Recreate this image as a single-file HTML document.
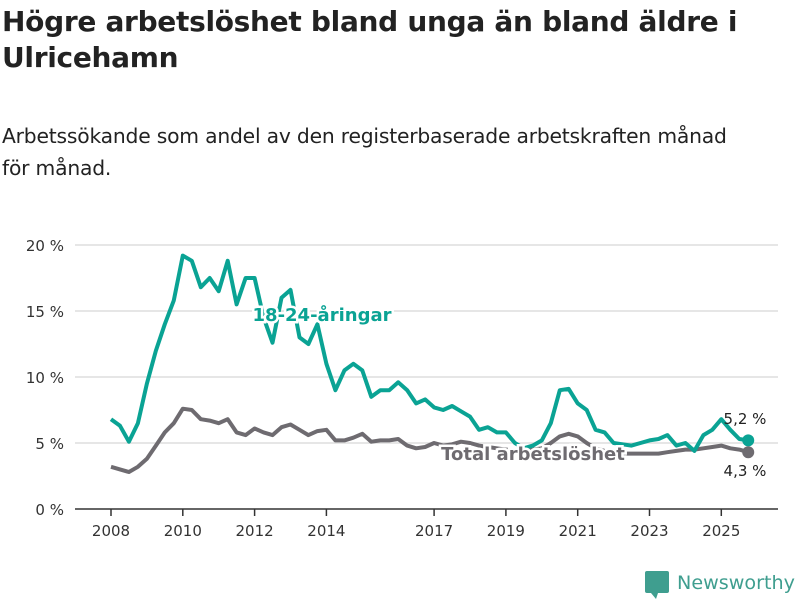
<!DOCTYPE html>
<html><head><meta charset="utf-8"><style>
body{margin:0;background:#fff;font-family:"Liberation Sans","DejaVu Sans",sans-serif;}
#wrap{position:relative;width:800px;height:600px;overflow:hidden;}
h1{position:absolute;left:2px;top:4px;margin:0;font-size:28px;line-height:36px;font-weight:bold;color:#222;font-family:"DejaVu Sans",sans-serif;letter-spacing:-0.3px}
p{position:absolute;left:2px;top:120px;margin:0;width:798px;white-space:nowrap;font-size:20.3px;line-height:32px;color:#222;font-family:"DejaVu Sans",sans-serif;letter-spacing:-0.2px}
</style></head><body><div id="wrap">
<h1>Högre arbetslöshet bland unga än bland äldre i Ulricehamn</h1>
<p>Arbetssökande som andel av den registerbaserade arbetskraften månad<br>för månad.</p>
<svg id="c" width="800" height="600" style="position:absolute;left:0;top:0"></svg>
</div>
<script>
const yTicks=[0,5,10,15,20];
const xTickYears=[2008,2010,2012,2014,2017,2019,2021,2023,2025];
const times=[];for(let i=0;i<72;i++)times.push(2008+i*0.25);
const youth=[6.8,6.3,5.1,6.5,9.5,12,14,15.8,19.2,18.8,16.8,17.5,16.5,18.8,15.5,17.5,17.5,14.5,12.6,16,16.6,13,12.5,14,11,9,10.5,11,10.5,8.5,9,9.0,9.6,9,8,8.3,7.7,7.5,7.8,7.4,7.0,6,6.2,5.8,5.8,5.0,4.6,4.8,5.2,6.5,9,9.1,8,7.5,6,5.8,5.0,4.9,4.8,5.0,5.2,5.3,5.6,4.8,5,4.4,5.6,6.0,6.8,6.0,5.3,5.2];
const total=[3.2,3.0,2.8,3.2,3.8,4.8,5.8,6.5,7.6,7.5,6.8,6.7,6.5,6.8,5.8,5.6,6.1,5.8,5.6,6.2,6.4,6.0,5.6,5.9,6.0,5.2,5.2,5.4,5.7,5.1,5.2,5.2,5.3,4.8,4.6,4.7,5.0,4.8,4.9,5.1,5.0,4.8,4.7,4.6,4.5,4.5,4.5,4.5,4.6,5.0,5.5,5.7,5.5,5.0,4.6,4.4,4.2,4.2,4.2,4.2,4.2,4.2,4.3,4.4,4.5,4.5,4.6,4.7,4.8,4.6,4.5,4.3];
const NS="http://www.w3.org/2000/svg";const svg=document.getElementById('c');
const X=t=>111+(t-2008)*35.9;const Y=v=>509-v*13.2;
function mk(tag,attrs,parent){const e=document.createElementNS(NS,tag);for(const k in attrs)e.setAttribute(k,attrs[k]);(parent||svg).appendChild(e);return e;}
yTicks.forEach(v=>{
 if(v>0){const g=mk('line',{x1:75,x2:778,y1:Y(v),y2:Y(v),stroke:'#ddd','stroke-width':1.5});
 
 }
 const t=mk('text',{x:64,y:Y(v)+6,'text-anchor':'end','font-size':15,fill:'#333','font-family':'DejaVu Sans, sans-serif'});t.textContent=v+' %';
 
 
});
const ax=mk('line',{x1:75,x2:778,y1:509,y2:509,stroke:'#333','stroke-width':1.5});


xTickYears.forEach(yr=>{
 const tk=mk('line',{x1:X(yr),x2:X(yr),y1:509,y2:516,stroke:'#333','stroke-width':1.5});
 
 
 const t=mk('text',{x:X(yr),y:536,'text-anchor':'middle','font-size':15,fill:'#333','font-family':'DejaVu Sans, sans-serif'});t.textContent=yr;
 
 
});
function path(vals){return vals.map((v,i)=>(i?'L':'M')+X(times[i]).toFixed(1)+','+Y(v).toFixed(1)).join('');}
const lt=mk('path',{d:path(total),fill:'none',stroke:'#6e6b70','stroke-width':4,'stroke-linejoin':'round'});


const ly=mk('path',{d:path(youth),fill:'none',stroke:'#0aa394','stroke-width':4,'stroke-linejoin':'round'});


const n=times.length-1;
const d1=mk('circle',{cx:X(times[n]),cy:Y(youth[n]),r:6,fill:'#0aa394'});


const d2=mk('circle',{cx:X(times[n]),cy:Y(total[n]),r:6,fill:'#6e6b70'});


function lbl(x,y,s,fill,name,size,bold,halo){const t=mk('text',{x:x,y:y,'text-anchor':'middle','font-size':size,fill:fill,'font-weight':bold?'bold':'normal','font-family':'DejaVu Sans, sans-serif',stroke:halo?'#fff':'none','stroke-width':halo?5:0,'paint-order':'stroke'});t.textContent=s;
 
 }
lbl(322,321,'18-24-åringar','#0aa394','youth-series-label',18,true,true);
lbl(533,460,'Total arbetslöshet','#6e6b70','total-series-label',18,true,true);
lbl(745,424,'5,2 %','#222','youth-end-value',15,false,false);
lbl(745,476,'4,3 %','#222','total-end-value',15,false,false);
const lg=mk('g',{});


mk('rect',{x:645,y:571,width:24,height:22,rx:2,fill:'#3f9e8f'},lg);
mk('path',{d:'M651,593 L656,599 L658,593 Z',fill:'#3f9e8f'},lg);
const lt2=mk('text',{x:677,y:589,'font-size':19,fill:'#3f9e8f','font-family':'DejaVu Sans, sans-serif','textLength':118,'lengthAdjust':'spacingAndGlyphs'},lg);lt2.textContent='Newsworthy';
</script></body></html>
